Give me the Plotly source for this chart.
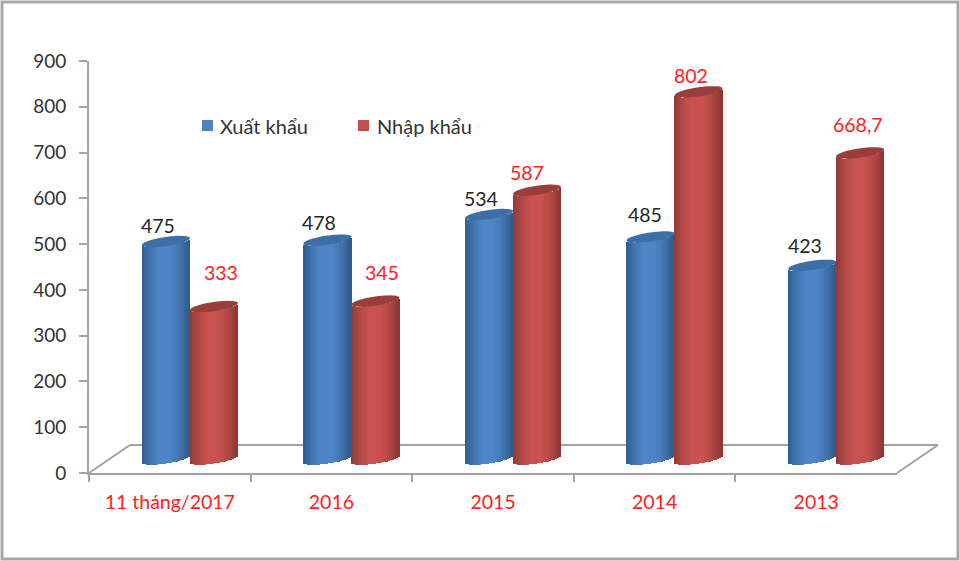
import math
import plotly.graph_objects as go

categories = ["11 tháng/2017", "2016", "2015", "2014", "2013"]
export_values = [475, 478, 534, 485, 423]
import_values = [333, 345, 587, 802, 668.7]
export_labels = ["475", "478", "534", "485", "423"]
import_labels = ["333", "345", "587", "802", "668,7"]
y_ticks = [0, 100, 200, 300, 400, 500, 600, 700, 800, 900]

# label nudges in pixels, as placed by hand in the original chart
export_nudge = [(-8, 16), (-8, 18), (-8, 16), (-6, 22), (-7, 20)]
import_nudge = [(7, 34), (7, 29), (-10, 18), (-8, 16), (-2, 28)]

W, H = 960, 561
LEFT, RIGHT, TOP, BOTTOM = 89, 897, 61, 473
DX, DY = 20, 14
FONT = "Lato, Carlito, 'Noto Sans', sans-serif"
AXIS_GREY = "#a3a3a3"
px_per_unit = (BOTTOM - TOP) / 900
px_per_cat = (RIGHT - LEFT) / len(categories)
BAR_W = 48 / px_per_cat
RY = 4.6 / px_per_unit      # cap half height, in value units
TILT = 3.4 / px_per_unit    # cap slant, in value units
NSTRIP = 24
EXTRA = 30                  # room under zero on the drawing axis


def mix(a, b, t):
    return tuple(a[i] + (b[i] - a[i]) * t for i in range(3))


def shade(u, dark_l, mid, dark_r):
    # u runs from -1 (left rim) to 1 (right rim)
    if u < -0.3:
        c = mix(dark_l, mid, min(1, (u + 1) / 0.7) ** 0.8)
    elif u < 0.15:
        c = mid
    else:
        c = mix(mid, dark_r, ((u - 0.15) / 0.85) ** 1.4)
    return "rgb(%d,%d,%d)" % c


series = [
    dict(name="Xuất khẩu", values=export_values, labels=export_labels, nudge=export_nudge,
         side=-0.5, color="#4f81bd", dl=(45, 92, 142), mid=(79, 133, 199), dr=(46, 88, 134),
         cap="#3d6fa6", text="#262626", legend_x=202, legend_text_x=218),
    dict(name="Nhập khẩu", values=import_values, labels=import_labels, nudge=import_nudge,
         side=0.5, color="#c0504d", dl=(140, 58, 56), mid=(201, 82, 79), dr=(138, 54, 52),
         cap="#9a3e3c", text="#ff2020", legend_x=358, legend_text_x=375),
]


def fx(p):
    return p / W


def fy(p):
    return 1 - p / H


fig = go.Figure()

# hidden trace that gives the visible axes their categories
fig.add_trace(go.Scatter(x=categories, y=export_values, mode="lines", line=dict(width=0),
                         opacity=0, hoverinfo="skip", showlegend=False, xaxis="x", yaxis="y"))

idx = list(range(len(categories)))
shapes = []
annotations = []

for s in series:
    # real value bars, kept inside the shaded strips
    fig.add_trace(go.Bar(
        x=idx, y=s["values"], name=s["name"], xaxis="x2", yaxis="y2", showlegend=False,
        marker=dict(color=s["color"], line=dict(width=0)),
        width=BAR_W * 0.6, offset=s["side"] * BAR_W - BAR_W * 0.3,
    ))
    # horizontal shading of the cylinder body
    xs, ys, bases, offs, cols = [], [], [], [], []
    sw = BAR_W / NSTRIP
    for i, v in zip(idx, s["values"]):
        for k in range(NSTRIP):
            u = -1 + (k + 0.5) * 2 / NSTRIP
            rim = TILT * u - RY * math.sqrt(max(0, 1 - u * u))
            xs.append(i)
            bases.append(rim)
            ys.append(v)
            offs.append(s["side"] * BAR_W + u * BAR_W / 2 - sw * 0.6)
            cols.append(shade(u, s["dl"], s["mid"], s["dr"]))
    fig.add_trace(go.Bar(
        x=xs, y=ys, base=bases, offset=offs, width=sw * 1.2, xaxis="x2", yaxis="y2",
        marker=dict(color=cols, line=dict(width=0)), showlegend=False, hoverinfo="skip",
    ))
    # cylinder caps and labels
    for i, v, lab, (nx, ny) in zip(idx, s["values"], s["labels"], s["nudge"]):
        cx = i + s["side"] * BAR_W
        pts = []
        for a in range(48):
            t = 2 * math.pi * a / 48
            u = math.cos(t)
            pts.append((cx + u * BAR_W / 2, v + TILT * u + RY * math.sin(t)))
        path = "M" + "L".join("%.4f,%.3f" % p for p in pts) + "Z"
        shapes.append(dict(type="path", path=path, xref="x2", yref="y2", layer="above",
                           fillcolor=s["cap"], line=dict(width=0)))
        annotations.append(dict(
            x=cx, y=v, xref="x2", yref="y2", text=lab, showarrow=False,
            xanchor="center", yanchor="middle", xshift=nx, yshift=ny,
            font=dict(family=FONT, size=19.5, color=s["text"]),
        ))
    # legend entry
    shapes.append(dict(type="rect", xref="paper", yref="paper", layer="above",
                       x0=fx(s["legend_x"]), x1=fx(s["legend_x"] + 11), y0=fy(131), y1=fy(120),
                       fillcolor=s["color"], line=dict(width=0)))
    annotations.append(dict(
        x=fx(s["legend_text_x"]), y=fy(126), xref="paper", yref="paper", text=s["name"],
        showarrow=False, xanchor="left", yanchor="middle",
        font=dict(family=FONT, size=20, color="#333333"),
    ))

# floor of the 3D chart and outer frame, in page fractions
FLOOR_DX, FLOOR_DY = 41, 28
for (x0, y0, x1, y1) in [
    (LEFT + FLOOR_DX, BOTTOM - FLOOR_DY, RIGHT + FLOOR_DX, BOTTOM - FLOOR_DY),
    (LEFT, BOTTOM, LEFT + FLOOR_DX, BOTTOM - FLOOR_DY),
    (RIGHT, BOTTOM, RIGHT + FLOOR_DX, BOTTOM - FLOOR_DY),
]:
    shapes.append(dict(type="line", xref="paper", yref="paper", layer="below",
                       x0=fx(x0), y0=fy(y0), x1=fx(x1), y1=fy(y1),
                       line=dict(color=AXIS_GREY, width=2)))
shapes.append(dict(type="rect", xref="paper", yref="paper", layer="below",
                   x0=fx(2), y0=fy(559), x1=fx(958), y1=fy(2),
                   line=dict(color="#a8a8a8", width=3), fillcolor="rgba(0,0,0,0)"))

axis_font = dict(family=FONT, size=19, color="#333333")
y_bottom2 = BOTTOM - DY + EXTRA * px_per_unit
y_top2 = TOP - DY

fig.update_layout(
    width=W, height=H, margin=dict(l=0, r=0, t=0, b=0, pad=0, autoexpand=False),
    paper_bgcolor="white", plot_bgcolor="rgba(0,0,0,0)",
    barmode="overlay", bargap=0, hovermode=False, showlegend=False,
    font=dict(family=FONT),
    xaxis=dict(type="category", categoryorder="array", categoryarray=categories,
               range=[-0.5, len(categories) - 0.5], domain=[fx(LEFT), fx(RIGHT)], anchor="y",
               tickson="boundaries", ticks="outside", ticklen=7, tickwidth=2, tickcolor=AXIS_GREY,
               showline=True, linecolor=AXIS_GREY, linewidth=2, showgrid=False, zeroline=False,
               ticklabelstandoff=11,
               tickfont=dict(family=FONT, size=19.5, color="#ff2020")),
    yaxis=dict(range=[0, 900], domain=[fy(BOTTOM), fy(TOP)], anchor="x", tickvals=y_ticks,
               ticks="outside", ticklen=8, tickwidth=2, tickcolor=AXIS_GREY,
               showline=True, linecolor=AXIS_GREY, linewidth=2, showgrid=False, zeroline=False,
               ticklabelstandoff=9,
               tickfont=axis_font),
    xaxis2=dict(range=[-0.5, len(categories) - 0.5], domain=[fx(LEFT + DX), fx(RIGHT + DX)],
                anchor="y2", visible=False),
    yaxis2=dict(range=[-EXTRA, 900], domain=[fy(y_bottom2), fy(y_top2)], anchor="x2", visible=False),
    shapes=shapes, annotations=annotations,
)

fig.write_html("out.html", config=dict(displayModeBar=False),
               post_script="document.body.style.margin='0';")
